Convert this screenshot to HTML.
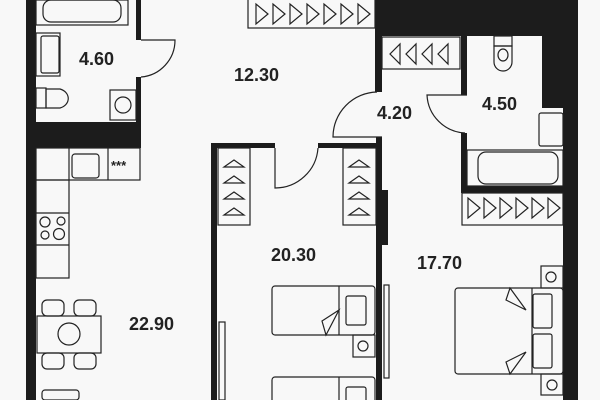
<!DOCTYPE html>
<html><head><style>
html,body{margin:0;padding:0;background:#f8f8f8;}
svg{display:block}
text{font-family:"Liberation Sans",sans-serif;font-weight:bold;fill:#222;font-size:18px}
</style></head><body>
<svg width="600" height="400" viewBox="0 0 600 400">
<rect width="600" height="400" fill="#f8f8f8"/>
<g fill="#1c1c1c">
<rect x="26" y="0" width="10" height="400"/>
<rect x="136" y="0" width="5" height="40"/>
<rect x="136" y="77" width="5" height="46"/>
<rect x="36" y="122" width="105" height="26"/>
<rect x="211" y="143" width="64" height="5"/>
<rect x="211" y="143" width="6" height="257"/>
<rect x="318" y="143" width="64" height="5"/>
<rect x="376" y="137" width="6" height="263"/>
<rect x="381" y="190" width="7" height="55"/>
<rect x="375" y="0" width="203" height="36"/>
<rect x="542" y="36" width="36" height="72"/>
<rect x="563" y="108" width="15" height="292"/>
<rect x="375" y="36" width="7" height="56"/>
<rect x="461" y="36" width="6" height="59"/>
<rect x="461" y="133" width="6" height="59"/>
<rect x="461" y="186" width="102" height="7"/>
</g>
<g fill="none" stroke="#222" stroke-width="1.2">
<path d="M141 40 L175 40 A37 37 0 0 1 141 77"/>
<path d="M382 137 L333 137 A45 45 0 0 1 377 92"/>
<path d="M467 95 L427 95 A40 40 0 0 0 465 133"/>
<path d="M275 148 L275 188 A43 43 0 0 0 318 148"/>
<rect x="36" y="0" width="92" height="25"/>
<rect x="43" y="0" width="78" height="22" rx="8"/>
<rect x="36" y="33" width="24" height="43"/>
<rect x="41" y="36" width="18" height="37" rx="2"/>
<rect x="36" y="88" width="10" height="20"/>
<path d="M46 89 L60 89 A12 10 0 0 1 60 108 L46 108 Z"/>
<rect x="110" y="90" width="26" height="30"/>
<circle cx="123" cy="105" r="8"/>
<rect x="36" y="148" width="104" height="32"/>
<line x1="69" y1="148" x2="69" y2="180"/>
<line x1="108" y1="148" x2="108" y2="180"/>
<rect x="72" y="154" width="27" height="24" rx="3"/>
<rect x="36" y="180" width="33" height="98"/>
<line x1="36" y1="213" x2="69" y2="213"/>
<line x1="36" y1="245" x2="69" y2="245"/>
<circle cx="45" cy="222" r="5"/><circle cx="61" cy="221" r="4"/>
<circle cx="45" cy="235" r="4"/><circle cx="59" cy="234" r="5.5"/>
<rect x="37" y="316" width="64" height="37"/>
<rect x="42" y="300" width="22" height="16" rx="5"/>
<rect x="74" y="300" width="22" height="16" rx="5"/>
<rect x="42" y="353" width="22" height="16" rx="5"/>
<rect x="74" y="353" width="22" height="16" rx="5"/>
<circle cx="69" cy="334" r="11"/>
<rect x="42" y="390" width="37" height="10" rx="3"/>
<rect x="219" y="322" width="6" height="78"/>
<rect x="248" y="-1" width="127" height="29"/>
<rect x="218" y="148" width="32" height="77"/>
<rect x="343" y="148" width="33" height="77"/>
<rect x="272" y="286" width="103" height="49" rx="3"/>
<line x1="339" y1="286" x2="339" y2="335"/>
<rect x="346" y="296" width="20" height="29" rx="2"/>
<path d="M339 310 L322 321 L326 335 Z"/>
<rect x="353" y="335" width="22" height="22"/>
<circle cx="363" cy="346" r="5"/>
<rect x="272" y="377" width="103" height="30" rx="3"/>
<line x1="339" y1="377" x2="339" y2="400"/>
<rect x="346" y="387" width="20" height="20" rx="2"/>
<rect x="384" y="285" width="5" height="93"/>
<rect x="382" y="37" width="78" height="32"/>
<rect x="494" y="36" width="18" height="10"/>
<path d="M494 46 L512 46 L512 62 A9 9 0 0 1 494 62 Z"/>
<ellipse cx="503" cy="55" rx="5" ry="6"/>
<rect x="539" y="113" width="24" height="33" rx="2"/>
<rect x="467" y="150" width="96" height="36"/>
<rect x="478" y="152" width="80" height="32" rx="8"/>
<rect x="462" y="193" width="101" height="32"/>
<rect x="455" y="288" width="108" height="86" rx="3"/>
<line x1="532" y1="288" x2="532" y2="374"/>
<rect x="533" y="294" width="19" height="34" rx="2"/>
<rect x="533" y="334" width="19" height="34" rx="2"/>
<path d="M510 288 L526 310 L506 300 Z"/>
<path d="M510 374 L526 352 L506 362 Z"/>
<rect x="541" y="266" width="22" height="22"/>
<circle cx="551" cy="277" r="5"/>
<rect x="541" y="374" width="22" height="21"/>
<circle cx="552" cy="385" r="5"/>
</g>
<g fill="none" stroke="#222" stroke-width="1.2">
<path d="M256 4 L256 24 L268 14 Z M273 4 L273 24 L285 14 Z M290 4 L290 24 L302 14 Z M307 4 L307 24 L319 14 Z M324 4 L324 24 L336 14 Z M341 4 L341 24 L353 14 Z M358 4 L358 24 L370 14 Z"/>
<path d="M400 44 L400 64 L390 54 Z M416 44 L416 64 L406 54 Z M432 44 L432 64 L422 54 Z M448 44 L448 64 L438 54 Z"/>
<path d="M468 198 L468 218 L480 208 Z M484 198 L484 218 L496 208 Z M500 198 L500 218 L512 208 Z M516 198 L516 218 L528 208 Z M532 198 L532 218 L544 208 Z M548 198 L548 218 L560 208 Z"/>
<path d="M224 167 L234 160 L244 167 Z M224 183 L234 176 L244 183 Z M224 199 L234 192 L244 199 Z M224 215 L234 208 L244 215 Z"/>
<path d="M349 167 L359 160 L369 167 Z M349 183 L359 176 L369 183 Z M349 199 L359 192 L369 199 Z M349 215 L359 208 L369 215 Z"/>
</g>
<text x="111" y="170" style="font-size:13px">***</text>
<text x="79" y="65">4.60</text>
<text x="234" y="81">12.30</text>
<text x="377" y="119">4.20</text>
<text x="482" y="110">4.50</text>
<text x="271" y="261">20.30</text>
<text x="417" y="269">17.70</text>
<text x="129" y="330">22.90</text>
</svg>
</body></html>
